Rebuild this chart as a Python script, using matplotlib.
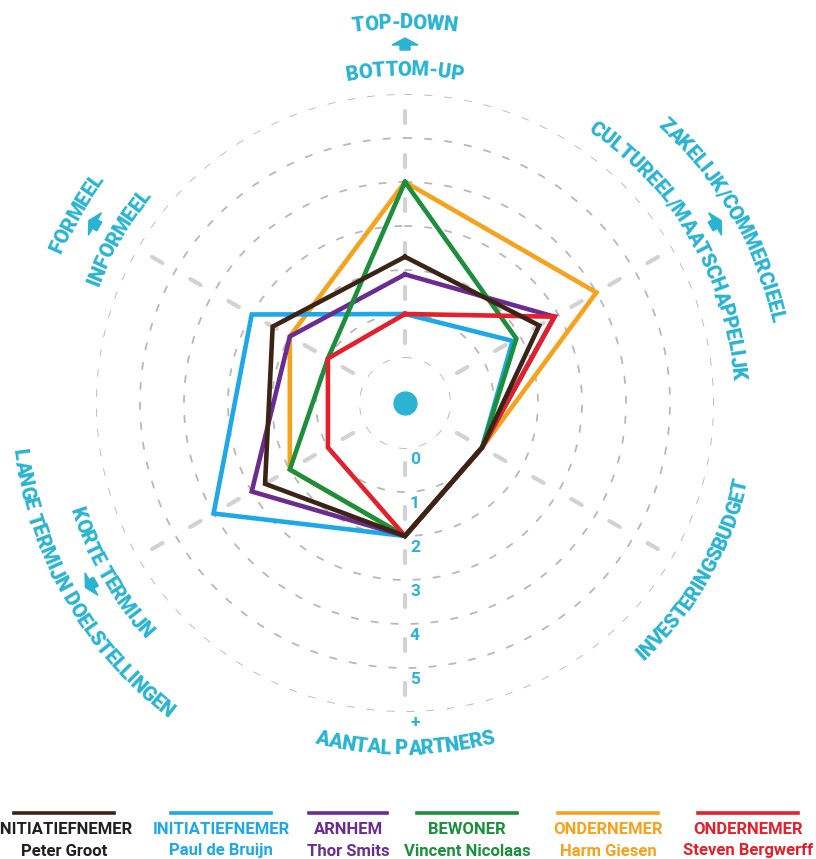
import numpy as np
import matplotlib
matplotlib.use("Agg")
import matplotlib.pyplot as plt
from matplotlib.font_manager import FontProperties
from matplotlib.patches import Polygon
from matplotlib.lines import Line2D

# ---------------- data ----------------
outer_labels = ["TOP-DOWN", "ZAKELIJK/COMMERCIEEL", "", "", "LANGE TERMIJN DOELSTELLINGEN", "FORMEEL"]
inner_labels = ["BOTTOM-UP", "CULTUREEL/MAATSCHAPPELIJK", "INVESTERINGSBUDGET", "AANTAL PARTNERS",
                "KORTE TERMIJN", "INFORMEEL"]
scale_labels = ["0", "1", "2", "3", "4", "5", "+"]

roles = ["INITIATIEFNEMER", "INITIATIEFNEMER", "ARNHEM", "BEWONER", "ONDERNEMER", "ONDERNEMER"]
names = ["Peter Groot", "Paul de Bruijn", "Thor Smits", "Vincent Nicolaas", "Harm Giesen", "Steven Bergwerff"]

# axis order: top, upper-right, lower-right, bottom, lower-left, upper-left
peter_groot      = [2.3, 2.5, 1, 2, 2.65, 2.45]
paul_de_bruijn   = [1.0, 1.8, 1, 2, 4.0, 3.0]
thor_smits       = [1.9, 2.9, 1, 2, 3.0, 2.0]
vincent_nicolaas = [4.0, 1.9, 1, 2, 2.0, 1.0]
harm_giesen      = [4.0, 4.0, 1, 2, 2.0, 2.0]
steven_bergwerff = [1.0, 2.9, 1, 2, 1.0, 1.0]

series = [peter_groot, paul_de_bruijn, thor_smits, vincent_nicolaas, harm_giesen, steven_bergwerff]
colors = ["#3b2416", "#1ea8e8", "#6b2c91", "#1b8f3c", "#f6a21c", "#e3202b"]
draw_order = [4, 1, 2, 3, 5, 0]

CYAN = "#2ab4d2"
FONT = "Roboto"

W, H = 816, 859
fig = plt.figure(figsize=(W / 100, H / 100), dpi=100)
fig.patch.set_facecolor("white")

CX, CY = 405, 403          # centre in image pixels (from top)
RPX = 309                  # pixel radius of outer ring
ax = fig.add_axes([(CX - RPX) / W, (H - CY - RPX) / H, 2 * RPX / W, 2 * RPX / H], projection="polar")
ax.set_theta_zero_location("N")
ax.set_theta_direction(-1)
RMAX = len(scale_labels) - 1
RORIGIN = -1.023
ax.set_rlim(0, RMAX)
ax.set_rorigin(RORIGIN)
ax.grid(False)
ax.set_xticks([])
ax.set_yticks([])
ax.set_axis_off()

n_axes = len(inner_labels)
thetas = np.arange(n_axes) * 2 * np.pi / n_axes

# rings (short dashes)
tt = np.linspace(0, 2 * np.pi, 1441)
for k in range(RMAX + 1):
    ax.plot(tt, np.full_like(tt, k), color="#b8b8b8", lw=1.3, ls=(0, (3.6, 7.5)),
            dash_capstyle="round", zorder=1)
# spokes: one dash between each pair of rings
px_per_unit = RPX / (RMAX - RORIGIN)
lw_sp = 3.0
lw_px = lw_sp * 100 / 72
dash_px = 12.0
period_px = px_per_unit
off_px = period_px - (period_px / 2 - dash_px / 2)
for th in thetas:
    ax.plot([th, th], [RORIGIN, RMAX], color="#d2d2d2", lw=lw_sp,
            ls=(off_px / lw_px, (dash_px / lw_px, (period_px - dash_px) / lw_px)),
            dash_capstyle="round", zorder=1)

# centre dot
ax.plot([0], [RORIGIN], "o", ms=16.5, color=CYAN, zorder=5, clip_on=False)

# series
for i in draw_order:
    vals = series[i] + [series[i][0]]
    th = list(thetas) + [thetas[0]]
    ax.plot(th, vals, color=colors[i], lw=3.3, solid_joinstyle="miter", zorder=3)

# scale labels along bottom spoke
for k, s in enumerate(scale_labels):
    ax.annotate(s, xy=(np.pi, k), xytext=(10, -11), textcoords="offset pixels", ha="center", va="center",
                color=CYAN, fontsize=12.5, fontweight="bold", family=FONT, annotation_clip=False)

# -------------- curved labels ---------------
fig.canvas.draw()
renderer = fig.canvas.get_renderer()


def char_widths(text, prop):
    base = renderer.get_text_width_height_descent("AA", prop, ismath=False)[0]
    out = []
    for ch in text:
        w = renderer.get_text_width_height_descent("A" + ch + "A", prop, ismath=False)[0] - base
        out.append(w)
    return out


def arc_text(text, r_center, ang_deg, fs=14.5, clockwise=True, color=CYAN, spacing=0.97):
    prop = FontProperties(family=FONT, weight="heavy", size=fs)
    ws = [w * spacing for w in char_widths(text, prop)]
    cap = renderer.get_text_width_height_descent("H", prop, ismath=False)[1]
    total = sum(ws)
    cx, cy = CX, H - CY
    rb = r_center - cap / 2 if clockwise else r_center + cap / 2
    s = -total / 2
    for ch, w in zip(text, ws):
        sc = s + w / 2
        if clockwise:
            a = np.radians(ang_deg) - sc / rb
            rot = np.degrees(a) - 90
        else:
            a = np.radians(ang_deg) + sc / rb
            rot = np.degrees(a) + 90
        x = cx + rb * np.cos(a)
        y = cy + rb * np.sin(a)
        fig.text(x / W, y / H, ch, fontproperties=prop, color=color, rotation=rot,
                 rotation_mode="anchor", ha="center", va="baseline")
        s += w


def arrow(r, ang_deg):
    a = np.radians(ang_deg)
    u = np.array([-np.sin(a), np.cos(a)])   # tangent
    v = np.array([np.cos(a), np.sin(a)])    # radial outward
    pts_local = [(-5, -5), (-5, 0), (-13, 0), (0, 7), (13, 0), (5, 0), (5, -5)]
    c = np.array([CX, H - CY]) + r * v
    pts = [c + p[0] * u + p[1] * v for p in pts_local]
    pts = [(p[0] / W, p[1] / H) for p in pts]
    fig.patches.append(Polygon(pts, closed=True, transform=fig.transFigure, color=CYAN, figure=fig))


for i in range(n_axes):
    ang = 90 - 60 * i
    ang_n = ((ang + 180) % 360) - 180
    if ang_n > 0:
        if outer_labels[i]:
            arc_text(outer_labels[i], 382, ang, clockwise=True)
            arrow(358, ang)
        arc_text(inner_labels[i], 335, ang, clockwise=True)
    else:
        if outer_labels[i]:
            arc_text(outer_labels[i], 387, ang, clockwise=False)
            arrow(362, ang)
        arc_text(inner_labels[i], 344, ang, clockwise=False)

# -------------- legend ---------------
leg_centers = [64, 221, 348, 467, 608, 748]
for i in range(len(series)):
    cxl = leg_centers[i]
    tcol = "#231f20" if i == 0 else colors[i]
    fig.text(cxl / W, 1 - 830 / H, roles[i], ha="center", va="center", color=tcol,
             fontsize=12, fontweight="bold", family=FONT)
    fig.text(cxl / W, 1 - 851 / H, names[i], ha="center", va="center", color=tcol,
             fontsize=12, fontweight="bold", family=FONT)
    half = 50 if i != 2 else 39
    fig.add_artist(Line2D([(cxl - half) / W, (cxl + half) / W], [1 - 813 / H, 1 - 813 / H],
                          transform=fig.transFigure, color=colors[i], lw=2.6))

fig.savefig("out.png", dpi=100, facecolor="white")
